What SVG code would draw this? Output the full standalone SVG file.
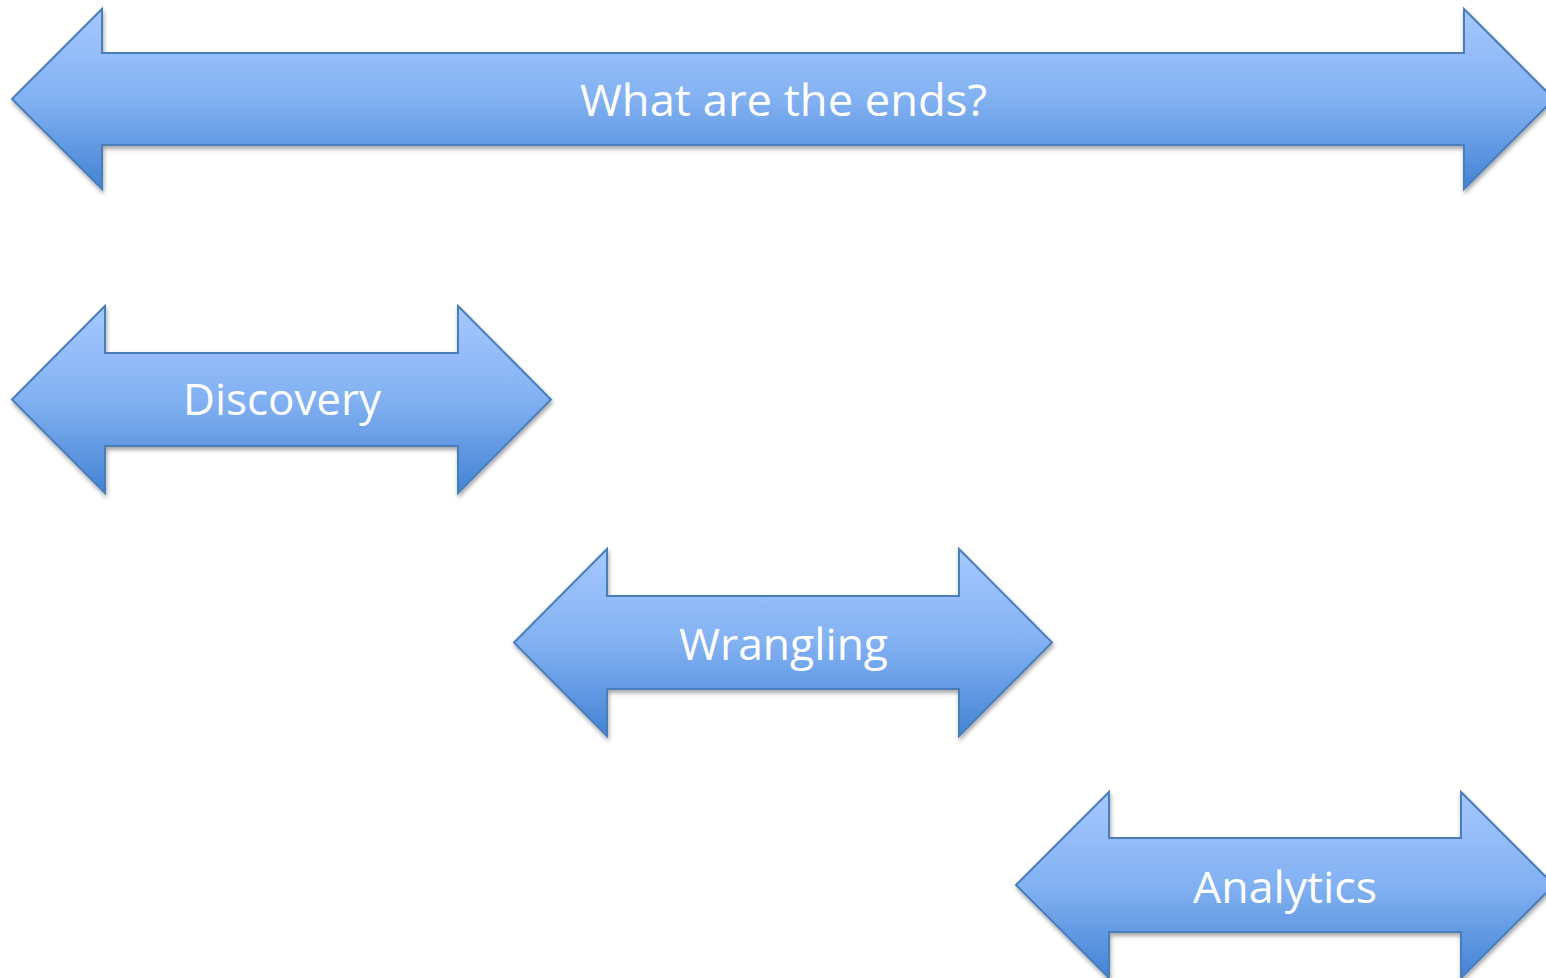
<svg xmlns="http://www.w3.org/2000/svg" width="1546" height="978" viewBox="0 0 1546 978">
  <defs>
    <linearGradient id="blueGrad" x1="0" y1="0" x2="0" y2="1">
      <stop offset="0" stop-color="#a6c8ff"/>
      <stop offset="0.5" stop-color="#82b1f2"/>
      <stop offset="1" stop-color="#4483d4"/>
    </linearGradient>
    <filter id="shadow" x="-5%" y="-10%" width="110%" height="125%">
      <feDropShadow dx="1" dy="3" stdDeviation="2" flood-color="#000" flood-opacity="0.35"/>
    </filter>
  </defs>
  <style>
    .arrow { fill: url(#blueGrad); stroke: #4a7ebb; stroke-width: 2; stroke-linejoin: miter; filter: url(#shadow); }
    .label { font-family: "Open Sans", "Liberation Sans", sans-serif; font-size: 44px; fill: #ffffff; text-anchor: middle; }
  </style>
  <rect x="0" y="0" width="1546" height="978" fill="#ffffff"/>

  <g id="ends">
    <path class="arrow" d="M12,99 L102,9 L102,53 L1464,53 L1464,9 L1554,99 L1464,189 L1464,145 L102,145 L102,189 Z"/>
    <text class="label" x="783.5" y="116" textLength="407" lengthAdjust="spacingAndGlyphs">What are the ends?</text>
  </g>

  <g id="discovery">
    <path class="arrow" d="M12,399.5 L105,306 L105,353 L458,353 L458,306 L551,399.5 L458,493 L458,446 L105,446 L105,493 Z"/>
    <text class="label" x="282" y="415" textLength="198" lengthAdjust="spacingAndGlyphs">Discovery</text>
  </g>

  <g id="wrangling">
    <path class="arrow" d="M514,642.5 L607,549 L607,596 L959,596 L959,549 L1052,642.5 L959,736 L959,689 L607,689 L607,736 Z"/>
    <text class="label" x="783.5" y="660" textLength="209" lengthAdjust="spacingAndGlyphs">Wrangling</text>
  </g>

  <g id="analytics">
    <path class="arrow" d="M1016,885 L1109,792 L1109,838 L1461,838 L1461,792 L1554,885 L1461,978 L1461,932 L1109,932 L1109,978 Z"/>
    <text class="label" x="1285" y="903" textLength="184" lengthAdjust="spacingAndGlyphs">Analytics</text>
  </g>

  <g id="connectors"></g>
</svg>
